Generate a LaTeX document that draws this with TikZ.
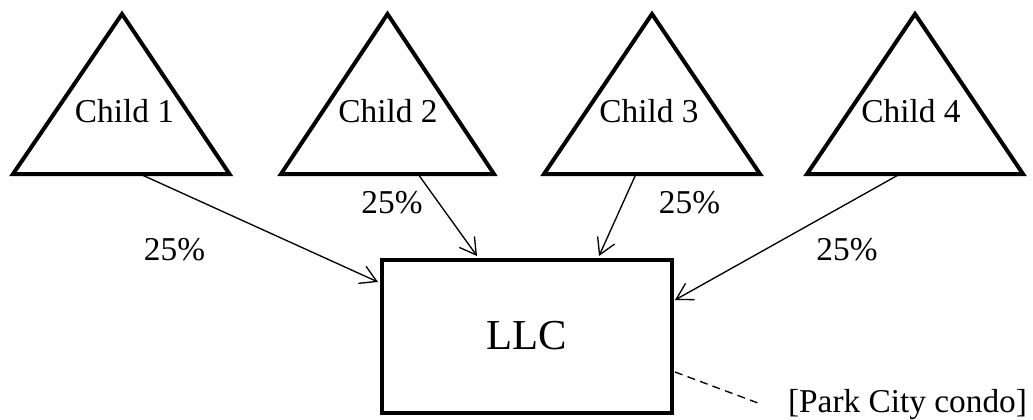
\documentclass[tikz,border=0pt]{standalone}
\usepackage{fontspec}
\setmainfont{Liberation Serif}
\usetikzlibrary{arrows.meta}
\begin{document}
\begin{tikzpicture}[x=0.75pt,y=-0.75pt,
  tri/.style={draw=black,line width=3pt,line join=miter},
  lbl/.style={anchor=base,inner sep=0pt,font=\fontsize{25}{30}\selectfont},
  conn/.style={draw=black,line width=1pt,-{Straight Barb[length=12pt,width=14pt,line width=1pt]}},
  box/.style={draw=black,line width=3pt,minimum width=218.1pt,minimum height=114.75pt,inner sep=0pt,font=\fontsize{32}{38}\selectfont}]
\useasboundingbox (0,0) rectangle (1033,419);
% triangles
\draw[tri] (122,14) -- (229.5,174) -- (13,174) -- cycle;
\draw[tri] (387.5,14) -- (494,174) -- (281,174) -- cycle;
\draw[tri] (652,14) -- (760,174) -- (544,174) -- cycle;
\draw[tri] (915,14) -- (1023,174) -- (807,174) -- cycle;
\node[lbl] (c1) at (124.5,122) {Child 1};
\node[lbl] (c2) at (388,122) {Child 2};
\node[lbl] (c3) at (649,122) {Child 3};
\node[lbl] (c4) at (911,122) {Child 4};
% LLC box
\node[box] (llc) at (527,336) {LLC};
% connector points
\coordinate (s1) at (140,174);
\coordinate (s2) at (418,174);
\coordinate (s3) at (636,174);
\coordinate (s4) at (900,174);
\coordinate (e1) at (378,282);
\coordinate (e2) at (477,256);
\coordinate (e3) at (599,256);
\coordinate (e4) at (675,300);
\draw[conn] (s1) -- (e1);
\draw[conn] (s2) -- (e2);
\draw[conn] (s3) -- (e3);
\draw[conn] (s4) -- (e4);
\node[lbl] (p1) at (174.5,260) {25\%};
\node[lbl] (p2) at (392,213) {25\%};
\node[lbl] (p3) at (689.5,213) {25\%};
\node[lbl] (p4) at (847,260) {25\%};
% condo
\node[lbl] (condo) at (907.5,412) {[Park City condo]};
\coordinate (d1) at (675,372);
\coordinate (d2) at (758,403);
\draw[line width=1pt,dash pattern=on 6pt off 4pt] (d1) -- (d2);
\end{tikzpicture}
\end{document}
